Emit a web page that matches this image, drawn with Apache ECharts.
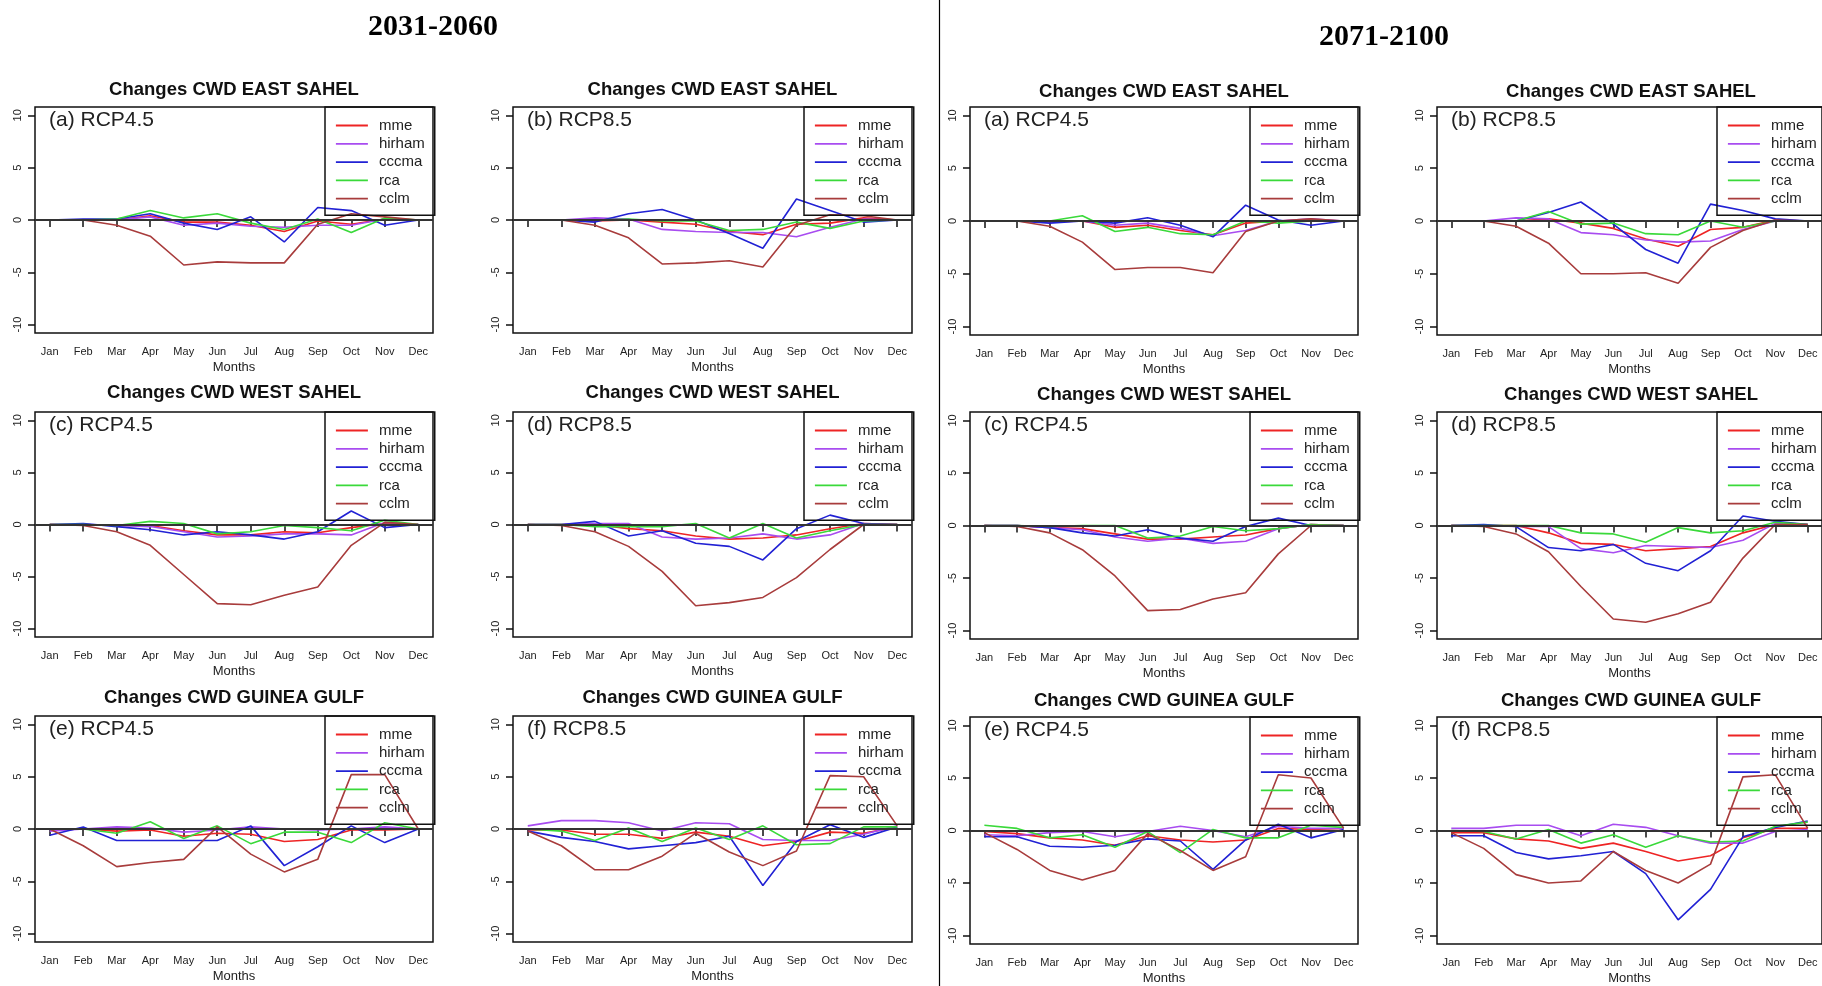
<!DOCTYPE html>
<html>
<head>
<meta charset="utf-8">
<title>Changes CWD</title>
<script src="https://cdn.jsdelivr.net/npm/echarts@6/dist/echarts.min.js"></script>
<style>
  html, body { margin: 0; padding: 0; background: #fff; }
  #chart { width: 1822px; height: 986px; }
</style>
</head>
<body>
<div id="chart"></div>
<script>
// months on the x axis
const months = ['Jan', 'Feb', 'Mar', 'Apr', 'May', 'Jun', 'Jul', 'Aug', 'Sep', 'Oct', 'Nov', 'Dec'];
const models = ['mme', 'hirham', 'cccma', 'rca', 'cclm'];
const yTicks = [-10, -5, 0, 5, 10];

// rows: mme, hirham, cccma, rca, cclm  (2031-2060)
const eastSahel45Mid = [
  [0, 0, 0, 0.4, -0.2, -0.2, -0.5, -1.1, -0.1, -0.4, 0.1, 0],
  [0, 0, 0, 0.3, -0.5, -0.3, -0.6, -0.7, -0.5, -0.5, 0.1, 0],
  [0, 0.1, 0.1, 0.6, -0.3, -0.9, 0.3, -2.1, 1.2, 0.9, -0.5, 0],
  [0, 0, 0.1, 0.9, 0.2, 0.6, -0.3, -0.9, 0.1, -1.2, 0.2, 0],
  [0, 0, -0.5, -1.55, -4.3, -4.0, -4.1, -4.1, -0.4, 0.6, 0.3, 0]
];
const eastSahel85Mid = [
  [0, 0, -0.1, 0, -0.2, -0.4, -1.1, -1.4, -0.4, -0.3, 0.2, 0],
  [0, 0, 0.2, 0.1, -0.9, -1.1, -1.2, -1.2, -1.6, -0.7, 0.1, 0],
  [0, 0, -0.2, 0.6, 1.0, 0, -1.3, -2.7, 2.0, 0.9, -0.2, 0],
  [0, 0, 0, 0.1, -0.1, -0.1, -1.0, -0.9, -0.2, -0.8, -0.1, 0],
  [0, 0, -0.5, -1.7, -4.2, -4.1, -3.9, -4.5, -0.5, 0.5, 0.4, 0]
];
const westSahel45Mid = [
  [0, 0, -0.1, -0.1, -0.6, -1.0, -1.0, -0.7, -0.8, -0.3, 0.1, 0],
  [0, 0, -0.1, -0.2, -0.7, -1.2, -1.1, -0.9, -0.9, -1.0, 0.2, 0],
  [0, 0.1, -0.2, -0.5, -1.0, -0.7, -1.0, -1.4, -0.7, 1.3, -0.3, 0],
  [0, 0, -0.1, 0.3, 0.1, -0.9, -0.7, -0.1, -0.3, -0.6, 0.4, 0],
  [0, -0.1, -0.7, -2.0, -4.8, -7.6, -7.7, -6.8, -6.0, -2.0, 0.2, 0]
];
const westSahel85Mid = [
  [0, 0, 0, -0.4, -0.6, -1.1, -1.4, -1.3, -1.0, -0.4, 0.1, 0],
  [0, 0, 0.1, 0.1, -1.2, -1.4, -1.3, -0.9, -1.4, -1.0, 0.1, 0],
  [0, 0, 0.3, -1.1, -0.6, -1.8, -2.1, -3.4, -0.4, 0.9, 0.1, 0],
  [0, 0, -0.2, -0.2, -0.2, 0.1, -1.3, 0.1, -1.3, -0.6, 0, 0],
  [0, -0.1, -0.7, -2.1, -4.5, -7.8, -7.5, -7.0, -5.1, -2.4, 0, 0]
];
const guineaGulf45Mid = [
  [0, 0, -0.2, -0.1, -0.7, -0.4, -0.5, -1.2, -1.0, -0.1, -0.1, 0],
  [-0.2, 0, 0.2, 0.1, -0.3, -0.1, 0.2, 0, -0.1, 0, 0.2, 0],
  [-0.6, 0.2, -1.1, -1.1, -1.1, -1.1, 0.3, -3.5, -1.7, 0.3, -1.3, 0],
  [0, 0, -0.4, 0.7, -0.9, 0.3, -1.4, -0.3, -0.3, -1.3, 0.6, 0],
  [0, -1.6, -3.6, -3.2, -2.9, 0.2, -2.4, -4.1, -2.9, 5.2, 5.2, 0]
];
const guineaGulf85Mid = [
  [-0.1, -0.1, -0.5, -0.5, -0.9, -0.3, -0.7, -1.6, -1.2, -0.3, -0.4, 0.2],
  [0.3, 0.8, 0.8, 0.6, -0.2, 0.6, 0.5, -1.0, -1.1, -1.1, -0.5, 0.3],
  [-0.2, -0.8, -1.2, -1.9, -1.6, -1.3, -0.7, -5.4, -1.2, 0.4, -0.8, 0.2],
  [0, -0.2, -1.1, 0.1, -1.2, 0.1, -1.0, 0.3, -1.5, -1.4, 0.2, 0.2],
  [-0.2, -1.6, -3.9, -3.9, -2.6, -0.4, -2.2, -3.5, -2.1, 5.1, 5.0, 0.3]
];

// rows: mme, hirham, cccma, rca, cclm  (2071-2100)
const eastSahel45Far = [
  [0, 0, -0.1, 0, -0.6, -0.4, -0.9, -1.3, -0.2, 0, 0.1, 0],
  [0, 0, 0, 0, -0.4, -0.2, -0.7, -1.4, -0.9, 0, 0.2, 0],
  [0, 0, -0.2, 0, -0.2, 0.3, -0.4, -1.5, 1.5, 0.1, -0.4, 0],
  [0, 0, 0, 0.5, -1.0, -0.6, -1.2, -1.3, 0, -0.2, 0, 0],
  [0, 0, -0.5, -2.0, -4.6, -4.4, -4.4, -4.9, -1.0, 0, 0.2, 0]
];
const eastSahel85Far = [
  [0, 0, 0, 0.2, -0.2, -0.7, -1.7, -2.4, -0.8, -0.6, 0.1, 0],
  [0, 0, 0.3, 0.2, -1.1, -1.3, -1.8, -2.0, -1.9, -0.8, 0, 0],
  [0, 0, 0, 0.8, 1.8, -0.3, -2.7, -4.0, 1.6, 1.0, 0.2, 0],
  [0, 0, 0, 0.9, -0.3, -0.2, -1.2, -1.3, 0, -0.6, 0, 0],
  [0, 0, -0.5, -2.1, -5.0, -5.0, -4.9, -5.9, -2.5, -0.9, 0.1, 0]
];
const westSahel45Far = [
  [0, 0, -0.2, -0.3, -0.8, -1.3, -1.3, -1.1, -0.9, -0.3, 0.1, 0],
  [0, 0, -0.2, -0.4, -1.1, -1.5, -1.2, -1.7, -1.5, -0.3, 0.1, 0],
  [0, 0, -0.2, -0.7, -1.0, -0.4, -1.2, -1.5, -0.1, 0.7, 0, 0],
  [0, 0, -0.1, 0, 0, -1.2, -1.0, -0.1, -0.5, -0.3, 0.1, 0],
  [0, -0.1, -0.7, -2.3, -4.8, -8.1, -8.0, -7.0, -6.4, -2.7, 0, 0]
];
const westSahel85Far = [
  [0, 0, 0, -0.7, -1.7, -1.8, -2.4, -2.2, -2.0, -0.7, 0.1, 0.1],
  [0, 0, -0.1, -0.1, -2.2, -2.6, -1.9, -2.0, -2.1, -1.4, 0.2, 0.1],
  [0, 0.1, -0.1, -2.1, -2.4, -1.8, -3.6, -4.3, -2.4, 0.9, 0.4, 0.1],
  [0, 0, 0, 0, -0.7, -0.8, -1.6, -0.2, -0.7, -0.5, 0.3, 0.1],
  [0, -0.1, -0.8, -2.5, -5.8, -8.9, -9.2, -8.4, -7.3, -3.1, 0.1, 0.1]
];
const guineaGulf45Far = [
  [-0.1, -0.3, -0.7, -0.9, -1.4, -0.5, -0.9, -1.1, -0.9, 0.2, 0.1, 0.2],
  [-0.4, -0.5, -0.2, -0.1, -0.6, -0.1, 0.4, 0, -0.6, 0.4, 0.2, 0.2],
  [-0.6, -0.6, -1.5, -1.6, -1.4, -0.8, -1.0, -3.7, -0.9, 0.6, -0.7, 0.1],
  [0.5, 0.2, -0.7, -0.4, -1.6, -0.1, -2.1, 0.1, -0.7, -0.7, 0.5, 0.3],
  [-0.2, -1.8, -3.8, -4.7, -3.8, -0.3, -1.9, -3.8, -2.5, 5.3, 5.0, 0.2]
];
const guineaGulf85Far = [
  [-0.2, -0.2, -0.8, -1.0, -1.7, -1.2, -2.0, -2.9, -2.4, -0.7, 0.2, 0.2],
  [0.2, 0.2, 0.5, 0.5, -0.5, 0.6, 0.3, -0.5, -1.2, -1.2, -0.1, 0.1],
  [-0.5, -0.5, -2.1, -2.7, -2.4, -2.0, -4.1, -8.5, -5.6, -0.6, 0.3, 0.9],
  [0, -0.1, -0.8, 0.1, -1.2, -0.4, -1.6, -0.5, -1.1, -1.0, 0.4, 0.8],
  [-0.2, -1.7, -4.2, -5.0, -4.8, -2.0, -3.8, -5.0, -3.2, 5.1, 5.3, 0.2]
];

const colors = ['#ee2424', '#a84cf0', '#2121d4', '#3ad93a', '#a83c3c'];

// layout of the 4 columns x 3 rows of panels (pixels)
const colLeft = [35, 513, 970, 1437];
const colRight = [433, 912, 1358, 1825];
const rowTopL = [107, 412, 716], rowBotL = [333, 637, 942];
const rowTopR = [107, 412, 717], rowBotR = [335, 639, 945];

const panels = [
  { title: 'Changes CWD EAST SAHEL', tag: '(a) RCP4.5', data: eastSahel45Mid, col: 0, row: 0 },
  { title: 'Changes CWD EAST SAHEL', tag: '(b) RCP8.5', data: eastSahel85Mid, col: 1, row: 0 },
  { title: 'Changes CWD EAST SAHEL', tag: '(a) RCP4.5', data: eastSahel45Far, col: 2, row: 0 },
  { title: 'Changes CWD EAST SAHEL', tag: '(b) RCP8.5', data: eastSahel85Far, col: 3, row: 0 },
  { title: 'Changes CWD WEST SAHEL', tag: '(c) RCP4.5', data: westSahel45Mid, col: 0, row: 1 },
  { title: 'Changes CWD WEST SAHEL', tag: '(d) RCP8.5', data: westSahel85Mid, col: 1, row: 1 },
  { title: 'Changes CWD WEST SAHEL', tag: '(c) RCP4.5', data: westSahel45Far, col: 2, row: 1 },
  { title: 'Changes CWD WEST SAHEL', tag: '(d) RCP8.5', data: westSahel85Far, col: 3, row: 1 },
  { title: 'Changes CWD GUINEA GULF', tag: '(e) RCP4.5', data: guineaGulf45Mid, col: 0, row: 2 },
  { title: 'Changes CWD GUINEA GULF', tag: '(f) RCP8.5', data: guineaGulf85Mid, col: 1, row: 2 },
  { title: 'Changes CWD GUINEA GULF', tag: '(e) RCP4.5', data: guineaGulf45Far, col: 2, row: 2 },
  { title: 'Changes CWD GUINEA GULF', tag: '(f) RCP8.5', data: guineaGulf85Far, col: 3, row: 2 }
];

const FONT = '"Liberation Sans", Arial, sans-serif';
const monthIdx = months.map((m, i) => i + 1);

const grid = [], xAxis = [], yAxis = [], series = [], legend = [];
const graphic = [
  { type: 'line', shape: { x1: 939.5, y1: 0, x2: 939.5, y2: 986 }, style: { stroke: '#000', lineWidth: 1.2 } },
  { type: 'text', x: 433, y: 27, style: { text: '2031-2060', fontFamily: '"Liberation Serif", serif', fontWeight: 'bold', fontSize: 30, fill: '#000', align: 'center', verticalAlign: 'middle' } },
  { type: 'text', x: 1384, y: 37, style: { text: '2071-2100', fontFamily: '"Liberation Serif", serif', fontWeight: 'bold', fontSize: 30, fill: '#000', align: 'center', verticalAlign: 'middle' } }
];

panels.forEach((p, i) => {
  const right = p.col >= 2;
  const top = right ? rowTopR[p.row] : rowTopL[p.row];
  const bottom = right ? rowBotR[p.row] : rowBotL[p.row];
  const left = colLeft[p.col];
  const rgt = colRight[p.col];

  grid.push({
    left: left, top: top, width: rgt - left, height: bottom - top,
    show: true, borderColor: '#111', borderWidth: 1.5, backgroundColor: 'transparent'
  });
  xAxis.push({
    gridIndex: i, type: 'value', min: 0.56, max: 12.44,
    axisLine: { show: false }, splitLine: { show: false },
    axisTick: { customValues: monthIdx, length: 7, lineStyle: { color: '#111', width: 1.5 } },
    axisLabel: { customValues: monthIdx, formatter: (v) => months[Math.round(v) - 1], fontSize: 11, margin: 13, color: '#222', fontFamily: FONT },
    name: 'Months', nameLocation: 'middle', nameGap: 28,
    nameTextStyle: { fontSize: 13, color: '#222', fontFamily: FONT }
  });
  yAxis.push({
    gridIndex: i, type: 'value', min: -10.8, max: 10.8,
    axisLine: { show: false }, splitLine: { show: false },
    axisTick: { customValues: yTicks, length: 7, lineStyle: { color: '#111', width: 1.5 } },
    axisLabel: { customValues: yTicks, rotate: 90, align: 'center', verticalAlign: 'bottom', margin: 12, fontSize: 11, color: '#222', fontFamily: FONT }
  });
  legend.push({
    data: models, orient: 'vertical', left: rgt - 108, top: top,
    itemWidth: 32, itemHeight: 14, itemGap: 3.3, padding: [11, 10, 9, 10],
    borderColor: '#111', borderWidth: 1.5, selectedMode: false,
    itemStyle: { opacity: 0 },
    lineStyle: { width: 1.8 },
    textStyle: { fontSize: 15, color: '#222', fontFamily: FONT, padding: [0, 0, 0, 6] }
  });
  p.data.forEach((vals, k) => {
    const s = {
      name: models[k], type: 'line', xAxisIndex: i, yAxisIndex: i,
      data: vals.map((v, j) => [j + 1, v]),
      symbol: 'none', color: colors[k],
      lineStyle: { color: colors[k], width: 1.6 },
      silent: true, z: 3
    };
    if (k === 0) {
      s.markLine = {
        silent: true, symbol: ['none', 'none'], label: { show: false },
        lineStyle: { color: '#333', width: 1.8, type: 'solid' },
        data: [{ yAxis: 0 }]
      };
    }
    series.push(s);
  });

  const rowTitleY = right ? [92, 395, 701] : [90, 393, 698];
  graphic.push({
    type: 'text', x: (left + rgt) / 2, y: rowTitleY[p.row],
    style: { text: p.title, fontFamily: FONT, fontWeight: 'bold', fontSize: 18.5, fill: '#111', align: 'center', verticalAlign: 'middle' }
  });
  graphic.push({
    type: 'text', x: left + 14, y: top + 13,
    style: { text: p.tag, fontFamily: FONT, fontSize: 21, fill: '#222', align: 'left', verticalAlign: 'middle' }
  });
});

const chart = echarts.init(document.getElementById('chart'), null, { renderer: 'canvas' });
chart.setOption({
  animation: false,
  backgroundColor: '#fff',
  textStyle: { fontFamily: FONT },
  grid, xAxis, yAxis, legend, series, graphic
});
</script>
</body>
</html>
